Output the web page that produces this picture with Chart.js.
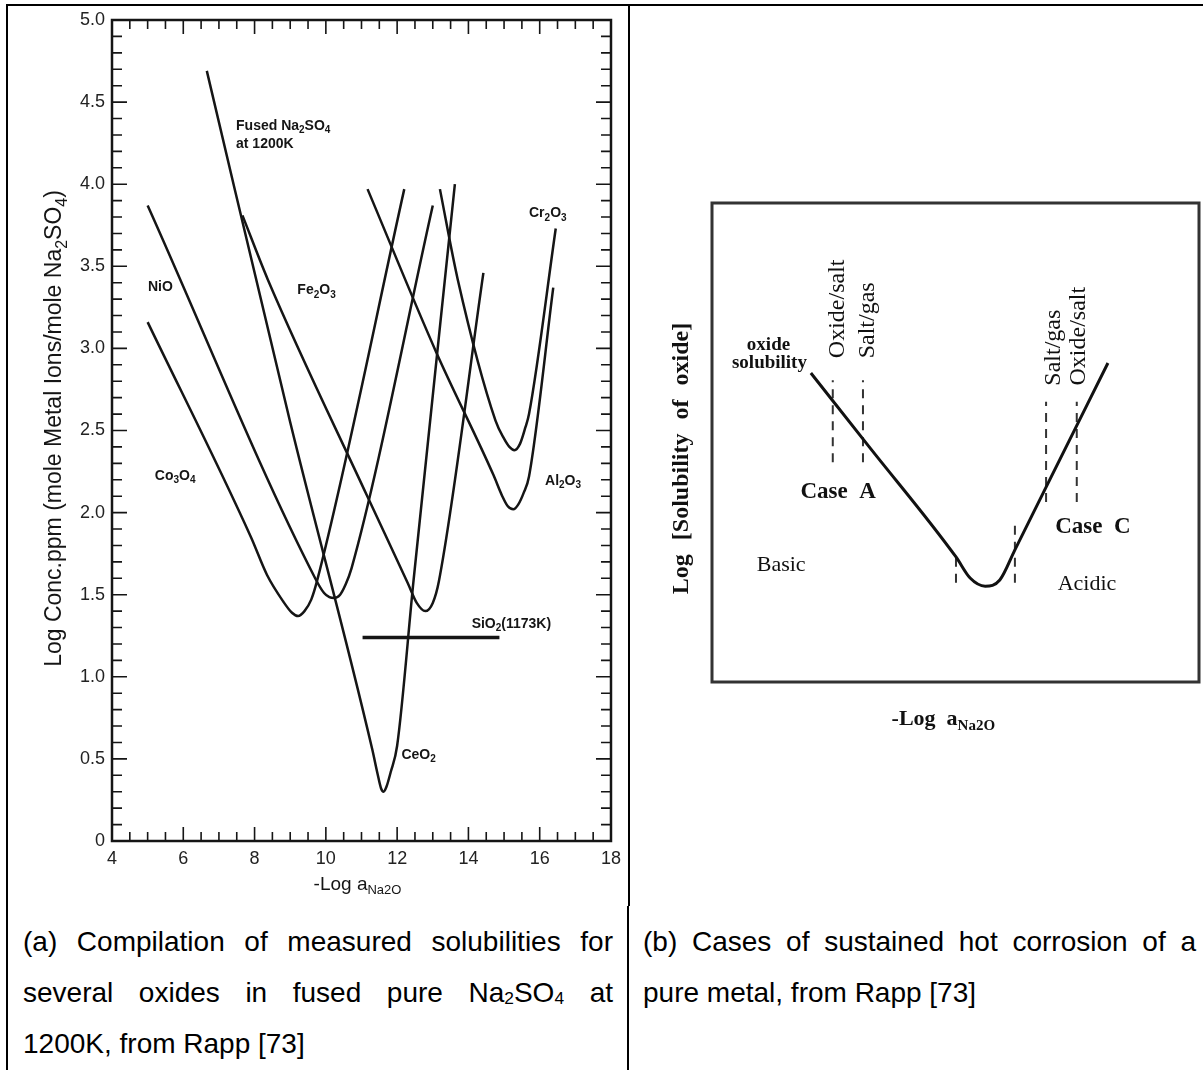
<!DOCTYPE html>
<html>
<head>
<meta charset="utf-8">
<title>Oxide solubilities in fused Na2SO4</title>
<script src="https://cdn.jsdelivr.net/npm/chart.js@4.4.1/dist/chart.umd.min.js"></script>
<style>
  body { margin: 0; background: #fff; }
  #page { position: relative; width: 1203px; height: 1070px; overflow: hidden; background: #fff; }
  .rule { position: absolute; background: #000; }
  .panel { position: absolute; top: 0; }
  .caption { position: absolute; font-family: 'Liberation Sans', Arial, sans-serif; font-size: 28px; line-height: 51px; color: #000; }
  .caption .j { text-align: justify; text-align-last: justify; }
  .caption sub { font-size: 0.62em; vertical-align: -0.12em; line-height: 0; }
</style>
</head>
<body>
<div id="page">
  <div class="rule" style="left:6px;top:4px;width:1197px;height:2px"></div>
  <div class="rule" style="left:6px;top:4px;width:2px;height:1066px"></div>
  <div class="rule" style="left:628px;top:4px;width:2px;height:902px"></div>
  <div class="rule" style="left:627px;top:906px;width:2px;height:164px"></div>

  <div class="panel" style="left:0;width:628px;height:906px">
    <canvas id="solubilityChart" width="628" height="906" style="width:628px;height:906px"></canvas>
  </div>
  <div class="panel" style="left:630px;width:573px;height:906px">
    <canvas id="casesChart" width="573" height="906" style="width:573px;height:906px"></canvas>
  </div>

  <div class="caption" style="left:23px;top:916px;width:590px">
    <div class="j">(a) Compilation of measured solubilities for</div>
    <div class="j">several oxides in fused pure Na<sub>2</sub>SO<sub>4</sub> at</div>
    <div>1200K, from Rapp [73]</div>
  </div>
  <div class="caption" style="left:643px;top:916px;width:553px">
    <div class="j">(b) Cases of sustained hot corrosion of a</div>
    <div>pure metal, from Rapp [73]</div>
  </div>
</div>

<script>
const SANS = "'Liberation Sans', Arial, sans-serif";
const SERIF = "'Liberation Serif', 'Times New Roman', serif";
const ink = '#151515';

// ---- (a) measured solubilities: x = -log a(Na2O), y = log conc. (ppm)
const xTickValues = [4, 6, 8, 10, 12, 14, 16, 18];
const yTickValues = [0, 0.5, 1, 1.5, 2, 2.5, 3, 3.5, 4, 4.5, 5];

const co3o4 = [[5.0, 3.16], [7.9, 1.85], [8.35, 1.62], [8.8, 1.46], [9.05, 1.39], [9.22, 1.37], [9.4, 1.40], [9.59, 1.47], [9.76, 1.59], [12.2, 3.97]];
const nio = [[5.0, 3.87], [9.7, 1.6], [9.95, 1.51], [10.1, 1.485], [10.23, 1.48], [10.4, 1.5], [10.55, 1.56], [10.72, 1.66], [13.0, 3.87]];
const ceo2 = [[6.66, 4.69], [9.0, 2.55], [11.3, 0.56], [11.45, 0.41], [11.55, 0.32], [11.62, 0.30], [11.7, 0.33], [11.82, 0.42], [12.0, 0.58], [12.46, 1.585], [13.62, 4.0]];
const fe2o3 = [[7.66, 3.81], [8.37, 3.42], [11.14, 2.11], [12.3, 1.57], [12.55, 1.45], [12.79, 1.40], [13.0, 1.45], [13.17, 1.58], [14.42, 3.46]];
const al2o3 = [[11.17, 3.97], [13.09, 2.98], [14.7, 2.23], [14.95, 2.1], [15.1, 2.04], [15.26, 2.02], [15.4, 2.05], [15.55, 2.12], [15.7, 2.22], [16.38, 3.37]];
const cr2o3 = [[13.2, 3.97], [13.7, 3.42], [14.76, 2.56], [15.0, 2.45], [15.15, 2.4], [15.29, 2.38], [15.45, 2.42], [15.6, 2.52], [15.7, 2.6], [16.45, 3.73]];
const sio2 = [[11.03, 1.24], [14.87, 1.24]];

// text inside the plot, anchored at its left edge in data units
const oxideLabels = [
  { x: 7.48, y: 4.36, parts: [['Fused Na'], ['2', 1], ['SO'], ['4', 1]] },
  { x: 7.48, y: 4.25, parts: [['at 1200K']] },
  { x: 5.01, y: 3.38, parts: [['NiO']] },
  { x: 9.2, y: 3.36, parts: [['Fe'], ['2', 1], ['O'], ['3', 1]] },
  { x: 15.7, y: 3.83, parts: [['Cr'], ['2', 1], ['O'], ['3', 1]] },
  { x: 5.2, y: 2.23, parts: [['Co'], ['3', 1], ['O'], ['4', 1]] },
  { x: 16.15, y: 2.2, parts: [['Al'], ['2', 1], ['O'], ['3', 1]] },
  { x: 14.09, y: 1.33, parts: [['SiO'], ['2', 1], ['(1173K)']] },
  { x: 12.12, y: 0.53, parts: [['CeO'], ['2', 1]] }
];

// ---- (b) schematic, arbitrary units 0..100 on both axes
const solubilityCurve = [[20.3, 64.5], [32.2, 49.2], [50.1, 26.1], [53.0, 21.7], [56.1, 20.0], [59.1, 21.3], [62.2, 27.6], [68.6, 40.7], [81.3, 66.6]];
const boundaries = [
  { x: 24.8, from: 45.9, to: 63.0 },
  { x: 31.0, from: 45.9, to: 63.0 },
  { x: 68.6, from: 37.6, to: 58.5 },
  { x: 74.9, from: 37.6, to: 58.5 },
  { x: 50.1, from: 20.7, to: 27.1 },
  { x: 62.2, from: 20.7, to: 33.2 }
];
const caseLabels = [
  { x: 11.6, y: 70.8, text: 'oxide', size: 19, weight: 'bold' },
  { x: 11.8, y: 67.0, text: 'solubility', size: 19, weight: 'bold' },
  { x: 25.9, y: 40.1, text: 'Case  A', size: 23, weight: 'bold' },
  { x: 78.2, y: 32.8, text: 'Case  C', size: 23, weight: 'bold' },
  { x: 14.2, y: 24.8, text: 'Basic', size: 22, weight: 'normal' },
  { x: 77.0, y: 20.9, text: 'Acidic', size: 22, weight: 'normal' }
];
const interfaceLabels = [
  { x: 25.3, y: 77.9, text: 'Oxide/salt' },
  { x: 31.4, y: 75.5, text: 'Salt/gas' },
  { x: 69.6, y: 69.8, text: 'Salt/gas' },
  { x: 74.9, y: 72.2, text: 'Oxide/salt' }
];

const toPoints = arr => arr.map(([x, y]) => ({ x, y }));

// draws text made of normal and subscript runs, y is the visual middle
function drawRich(ctx, parts, x, y, size, weight, family, align) {
  const subSize = Math.round(size * 0.68);
  const widths = parts.map(([t, sub]) => {
    ctx.font = `${weight} ${sub ? subSize : size}px ${family}`;
    return ctx.measureText(t).width;
  });
  const total = widths.reduce((a, b) => a + b, 0);
  let cx = align === 'center' ? x - total / 2 : x;
  const base = y + size * 0.36;
  ctx.textAlign = 'left';
  ctx.textBaseline = 'alphabetic';
  parts.forEach(([t, sub], i) => {
    ctx.font = `${weight} ${sub ? subSize : size}px ${family}`;
    ctx.fillText(t, cx, sub ? base + size * 0.24 : base);
    cx += widths[i];
  });
}

const solubilityDecor = {
  id: 'solubilityDecor',
  afterDatasetsDraw(chart) {
    const { ctx, chartArea: a, scales: { x, y } } = chart;
    ctx.save();
    ctx.strokeStyle = ink;
    ctx.lineWidth = 2.5;
    ctx.strokeRect(a.left, a.top, a.right - a.left, a.bottom - a.top);

    // inward ticks on all four sides
    ctx.lineWidth = 1.6;
    ctx.beginPath();
    for (let v = x.min; v <= x.max + 1e-9; v += 0.5) {
      const px = x.getPixelForValue(v);
      const len = Math.abs(v % 2) < 1e-9 ? 14 : 9;
      ctx.moveTo(px, a.bottom); ctx.lineTo(px, a.bottom - len);
      ctx.moveTo(px, a.top); ctx.lineTo(px, a.top + len);
    }
    for (let i = 0; i <= Math.round((y.max - y.min) * 10); i++) {
      const py = y.getPixelForValue(y.min + i / 10);
      const len = i % 5 === 0 ? 15 : 10;
      ctx.moveTo(a.left, py); ctx.lineTo(a.left + len, py);
      ctx.moveTo(a.right, py); ctx.lineTo(a.right - len, py);
    }
    ctx.stroke();

    ctx.fillStyle = ink;
    oxideLabels.forEach(l => {
      drawRich(ctx, l.parts, x.getPixelForValue(l.x), y.getPixelForValue(l.y), 14, 'bold', SANS, 'left');
    });

    // axis titles
    drawRich(ctx, [['-Log a'], ['Na2O', 1]], x.getPixelForValue(11) - 4, a.bottom + 42, 19, 'normal', SANS, 'center');
    ctx.save();
    ctx.translate(a.left - 59, (a.top + a.bottom) / 2 - 2);
    ctx.rotate(-Math.PI / 2);
    drawRich(ctx, [['Log Conc.ppm (mole Metal Ions/mole Na'], ['2', 1], ['SO'], ['4', 1], [')']], 0, 0, 23, 'normal', SANS, 'center');
    ctx.restore();
    ctx.restore();
  }
};

const curveStyle = { showLine: true, pointRadius: 0, borderColor: ink, borderWidth: 2.5, cubicInterpolationMode: 'monotone', fill: false };

new Chart(document.getElementById('solubilityChart'), {
  type: 'scatter',
  data: {
    datasets: [
      { label: 'Co3O4', data: toPoints(co3o4), ...curveStyle },
      { label: 'NiO', data: toPoints(nio), ...curveStyle },
      { label: 'CeO2', data: toPoints(ceo2), ...curveStyle },
      { label: 'Fe2O3', data: toPoints(fe2o3), ...curveStyle },
      { label: 'Al2O3', data: toPoints(al2o3), ...curveStyle },
      { label: 'Cr2O3', data: toPoints(cr2o3), ...curveStyle },
      { label: 'SiO2', data: toPoints(sio2), ...curveStyle, borderWidth: 3.5 }
    ]
  },
  options: {
    responsive: false,
    animation: false,
    events: [],
    layout: { padding: { top: 20, right: 15, left: 0, bottom: 0 } },
    plugins: { legend: { display: false }, tooltip: { enabled: false } },
    scales: {
      x: {
        type: 'linear', min: 4, max: 18,
        border: { display: false },
        grid: { display: false, drawTicks: false },
        afterBuildTicks: s => { s.ticks = xTickValues.map(v => ({ value: v })); },
        afterFit: s => { s.height = 65; },
        ticks: { padding: 7, color: '#222', font: { family: SANS, size: 18 }, maxRotation: 0, autoSkip: false }
      },
      y: {
        type: 'linear', min: 0, max: 5,
        border: { display: false },
        grid: { display: false, drawTicks: false },
        afterBuildTicks: s => { s.ticks = yTickValues.map(v => ({ value: v })); },
        afterFit: s => { s.width = 112; },
        ticks: { padding: 7, color: '#222', font: { family: SANS, size: 18 }, callback: v => v === 0 ? '0' : v.toFixed(1) }
      }
    }
  },
  plugins: [solubilityDecor]
});

const casesDecor = {
  id: 'casesDecor',
  afterDatasetsDraw(chart) {
    const { ctx, chartArea: a, scales: { x, y } } = chart;
    ctx.save();
    ctx.strokeStyle = '#333';
    ctx.lineWidth = 3;
    ctx.strokeRect(a.left, a.top, a.right - a.left, a.bottom - a.top);

    ctx.fillStyle = '#111';
    caseLabels.forEach(l => {
      drawRich(ctx, [[l.text]], x.getPixelForValue(l.x), y.getPixelForValue(l.y), l.size, l.weight, SERIF, 'center');
    });
    interfaceLabels.forEach(l => {
      ctx.save();
      ctx.translate(x.getPixelForValue(l.x), y.getPixelForValue(l.y));
      ctx.rotate(-Math.PI / 2);
      drawRich(ctx, [[l.text]], 0, 0, 24, 'normal', SERIF, 'center');
      ctx.restore();
    });

    // axis titles
    drawRich(ctx, [['-Log  a'], ['Na2O', 1]], x.getPixelForValue(47.5), a.bottom + 35, 22, 'bold', SERIF, 'center');
    ctx.save();
    ctx.translate(a.left - 33, (a.top + a.bottom) / 2 + 16);
    ctx.rotate(-Math.PI / 2);
    const words = ['Log', '[Solubility', 'of', 'oxide]'];
    ctx.font = `bold 24px ${SERIF}`;
    const gap = 14;
    const widths = words.map(w => ctx.measureText(w).width);
    let cx = -(widths.reduce((s, w) => s + w, 0) + gap * (words.length - 1)) / 2;
    words.forEach((w, i) => {
      drawRich(ctx, [[w]], cx, 0, 24, 'bold', SERIF, 'left');
      cx += widths[i] + gap;
    });
    ctx.restore();
    ctx.restore();
  }
};

new Chart(document.getElementById('casesChart'), {
  type: 'scatter',
  data: {
    datasets: [
      { label: 'solubility', data: toPoints(solubilityCurve), showLine: true, pointRadius: 0, borderColor: '#111', borderWidth: 3, cubicInterpolationMode: 'monotone' },
      ...boundaries.map(b => ({
        data: [{ x: b.x, y: b.from }, { x: b.x, y: b.to }],
        showLine: true, pointRadius: 0, borderColor: '#333', borderWidth: 2, borderDash: [9, 7]
      }))
    ]
  },
  options: {
    responsive: false,
    animation: false,
    events: [],
    layout: { padding: { left: 82, top: 203, right: 4, bottom: 224 } },
    plugins: { legend: { display: false }, tooltip: { enabled: false } },
    scales: {
      x: { type: 'linear', display: false, min: 0, max: 100 },
      y: { type: 'linear', display: false, min: 0, max: 100 }
    }
  },
  plugins: [casesDecor]
});
</script>
</body>
</html>
